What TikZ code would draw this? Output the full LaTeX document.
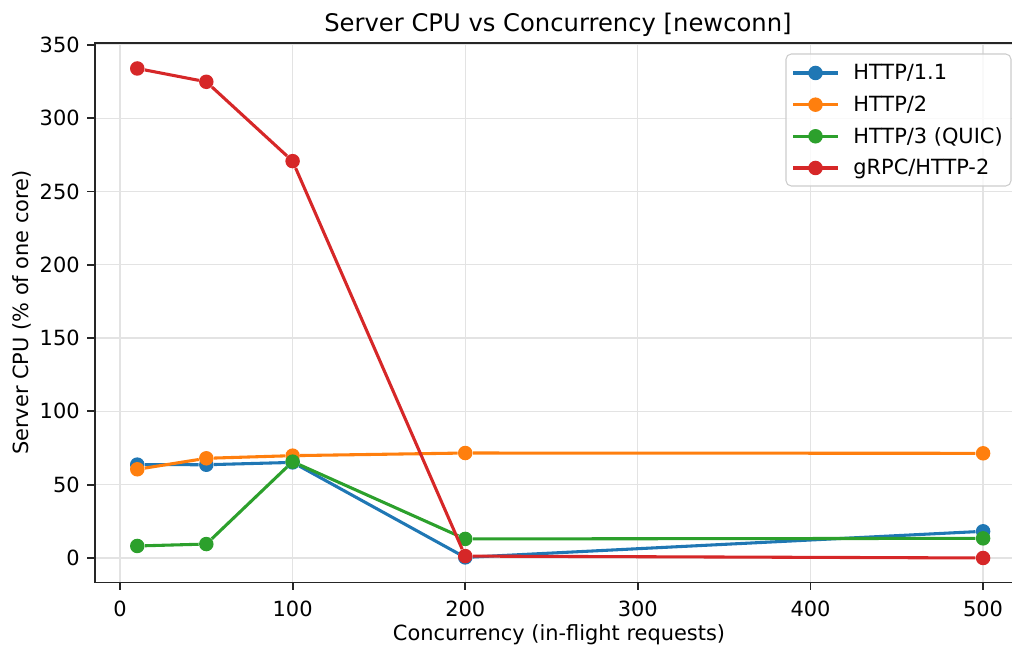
\documentclass[tikz,border=0pt]{standalone}
\usepackage{fontspec}
\setmainfont{DejaVu Sans}
\usetikzlibrary{positioning}

\definecolor{tabblue}{HTML}{1F77B4}
\definecolor{taborange}{HTML}{FF7F0E}
\definecolor{tabgreen}{HTML}{2CA02C}
\definecolor{tabred}{HTML}{D62728}
\definecolor{gridgray}{HTML}{E3E3E3}

\begin{document}
\begin{tikzpicture}[x=0.02cm,y=0.02cm,
	ticklabel/.style={font=\fontsize{11.9}{14}\selectfont,inner sep=0pt},
	dot/.style={circle,fill=#1,inner sep=0pt,minimum size=0.29cm},
	series/.style={draw=#1,line width=1.75pt,line join=round},
	spine/.style={line width=1.1pt,black!85}]

	\useasboundingbox (0,0) rectangle (1012,648);

	%title and axis labels
	\node[anchor=base,font=\fontsize{13.8}{16}\selectfont,inner sep=0pt] (title) at (558,616.5) {Server CPU vs Concurrency [newconn]};
	\node[anchor=base,ticklabel] (xlabel) at (559,7) {Concurrency (in-flight requests)};
	\node[anchor=base,rotate=90,ticklabel] (ylabel) at (29,335.5) {Server CPU (\% of one core)};

	\begin{scope}[shift={(120,90)},x=0.034524cm,y=0.029333cm]

		%grid
		\foreach \x in {0,100,...,500}
			\draw[gridgray,line width=0.7pt] (\x,-16.7) -- (\x,351);
		\foreach \y in {0,50,...,350}
			\draw[gridgray,line width=0.7pt] (-14.5,\y) -- (516.7,\y);

		%axes
		\draw[spine] (516.7,351) -- (-14.5,351) -- (-14.5,-16.7) -- (516.7,-16.7);

		%ticks
		\foreach \x in {0,100,...,500}{
			\draw[spine] (\x,-16.7) -- ++(0,-0.15cm);
			\node[ticklabel,anchor=north] (xt\x) at ([yshift=-0.36cm]\x,-16.7) {\x};
		}
		\foreach \y in {0,50,...,350}{
			\draw[spine] (-14.5,\y) -- ++(-0.15cm,0);
			\node[ticklabel,anchor=east] (yt\y) at ([xshift=-0.3cm]-14.5,\y) {\y};
		}

		%HTTP/1.1
		\node[dot=tabblue] (b1) at (10,63.7) {};
		\node[dot=tabblue] (b2) at (50,63.6) {};
		\node[dot=tabblue] (b3) at (100,65.2) {};
		\node[dot=tabblue] (b4) at (200,0.4) {};
		\node[dot=tabblue] (b5) at (500,18.2) {};
		\draw[series=tabblue] (b1) -- (b2) -- (b3) -- (b4) -- (b5);

		%HTTP/2
		\node[dot=taborange] (o1) at (10,60.5) {};
		\node[dot=taborange] (o2) at (50,68) {};
		\node[dot=taborange] (o3) at (100,69.8) {};
		\node[dot=taborange] (o4) at (200,71.6) {};
		\node[dot=taborange] (o5) at (500,71.4) {};
		\draw[series=taborange] (o1) -- (o2) -- (o3) -- (o4) -- (o5);

		%HTTP/3 (QUIC)
		\node[dot=tabgreen] (g1) at (10,8.2) {};
		\node[dot=tabgreen] (g2) at (50,9.5) {};
		\node[dot=tabgreen] (g3) at (100,65.7) {};
		\node[dot=tabgreen] (g4) at (200,13) {};
		\node[dot=tabgreen] (g5) at (500,13.4) {};
		\draw[series=tabgreen] (g1) -- (g2) -- (g3) -- (g4) -- (g5);

		%gRPC/HTTP-2
		\node[dot=tabred] (r1) at (10,333.9) {};
		\node[dot=tabred] (r2) at (50,324.8) {};
		\node[dot=tabred] (r3) at (100,270.7) {};
		\node[dot=tabred] (r4) at (200,1.3) {};
		\node[dot=tabred] (r5) at (500,0) {};
		\draw[series=tabred] (r1) -- (r2) -- (r3) -- (r4) -- (r5);

	\end{scope}

	%legend
	\draw[black!20,fill=white,fill opacity=0.8,rounded corners=3pt,line width=0.6pt] (786,594) rectangle (1011,462);
	\foreach \c/\name/\yy [count=\i] in {tabblue/HTTP\slash 1.1/575,taborange/HTTP\slash 2/543.3,tabgreen/HTTP\slash 3 (QUIC)/511.7,tabred/gRPC\slash HTTP-2/480}{
		\coordinate (la\i) at (793,\yy);
		\coordinate (lb\i) at (838,\yy);
		\draw[series=\c] (la\i) -- (lb\i);
		\node[dot=\c] (lm\i) at (815.5,\yy) {};
		\node[ticklabel,anchor=base west] (lt\i) at (853,\yy-7) {\name};
	}

\end{tikzpicture}
\end{document}
